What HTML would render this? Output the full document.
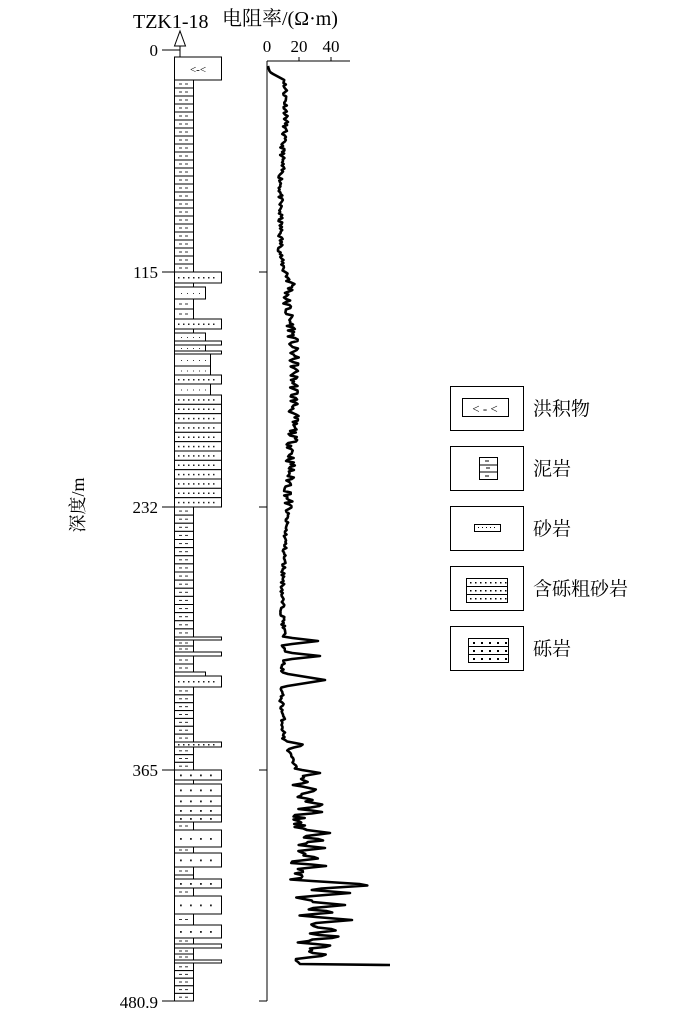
<!DOCTYPE html>
<html><head><meta charset="utf-8"><style>
html,body{margin:0;padding:0;background:#fff;}
svg{display:block;}
text{font-family:"Liberation Serif","Noto Serif CJK SC",serif;fill:#000;}
</style></head><body>
<svg id="s" width="700" height="1014" viewBox="0 0 700 1014" xmlns="http://www.w3.org/2000/svg">
<text x="133" y="28" font-size="20">TZK1-18</text>
<text x="222" y="25" font-size="20" font-family="Liberation Serif,Noto Sans CJK SC,sans-serif">电阻率/(Ω·m)</text>
<line x1="180" y1="57" x2="180" y2="42" stroke="#000" stroke-width="1"/>
<polygon points="174.5,46 185.5,46 180,31" fill="#fff" stroke="#000" stroke-width="1"/>
<g font-size="17" text-anchor="end">
<text x="158" y="56">0</text>
<text x="158" y="278">115</text>
<text x="158" y="513">232</text>
<text x="158" y="776">365</text>
<text x="158" y="1008">480.9</text>
</g>
<g stroke="#000" stroke-width="1">
<line x1="162" y1="50" x2="180" y2="50"/>
<line x1="162" y1="272" x2="174" y2="272"/>
<line x1="162" y1="507" x2="174" y2="507"/>
<line x1="162" y1="770" x2="174" y2="770"/>
<line x1="162" y1="1001" x2="194" y2="1001"/>
</g>
<text transform="translate(84,505) rotate(-90)" font-size="18" text-anchor="middle" font-family="Liberation Serif,Noto Sans CJK SC,sans-serif">深度/m</text>
<g stroke="#000" stroke-width="1" fill="none">
<line x1="267" y1="61" x2="267" y2="1001"/>
<line x1="267" y1="61" x2="350" y2="61"/>
<line x1="299" y1="57" x2="299" y2="61"/>
<line x1="331" y1="57" x2="331" y2="61"/>
<line x1="259" y1="272" x2="267" y2="272"/>
<line x1="259" y1="507" x2="267" y2="507"/>
<line x1="259" y1="770" x2="267" y2="770"/>
<line x1="259" y1="1001" x2="267" y2="1001"/>
</g>
<g font-size="17" text-anchor="middle">
<text x="267" y="52">0</text><text x="299" y="52">20</text><text x="331" y="52">40</text>
</g>
<g id="col"></g>
<path id="curve" fill="none" stroke="#000" stroke-width="2.6" stroke-linejoin="round"/>
<g stroke="#000" stroke-width="1" fill="#fff">
<rect x="450.5" y="386.5" width="73" height="44"/>
<rect x="450.5" y="446.5" width="73" height="44"/>
<rect x="450.5" y="506.5" width="73" height="44"/>
<rect x="450.5" y="566.5" width="73" height="44"/>
<rect x="450.5" y="626.5" width="73" height="44"/>
<rect x="462.5" y="398.5" width="46" height="18"/>
<rect x="479.5" y="457.5" width="18" height="22"/>
<line x1="479.5" y1="465" x2="497.5" y2="465"/><line x1="479.5" y1="472" x2="497.5" y2="472"/>
<rect x="474.5" y="524.5" width="26" height="7"/>
<rect x="466.5" y="578.5" width="41" height="24"/>
<line x1="466.5" y1="586.5" x2="507.5" y2="586.5"/><line x1="466.5" y1="594.5" x2="507.5" y2="594.5"/>
<rect x="468.5" y="638.5" width="40" height="24"/>
<line x1="468.5" y1="646.5" x2="508.5" y2="646.5"/><line x1="468.5" y1="654.5" x2="508.5" y2="654.5"/>
</g>
<g font-size="13" text-anchor="middle"><text x="485" y="413">&lt; - &lt;</text></g>
<g font-size="11" text-anchor="middle"><text x="198" y="73">&lt;-&lt;</text></g>
<g id="legdots"></g>
<g font-size="19" font-family="Liberation Serif,Noto Sans CJK SC,sans-serif">
<text x="533" y="415">洪积物</text>
<text x="533" y="475">泥岩</text>
<text x="533" y="535">砂岩</text>
<text x="533" y="595">含砾粗砂岩</text>
<text x="533" y="655">砾岩</text>
</g>
</svg>
<script>
var NS="http://www.w3.org/2000/svg";
function el(p,t,a){var e=document.createElementNS(NS,t);for(var k in a)e.setAttribute(k,a[k]);p.appendChild(e);return e;}
var col=document.getElementById('col');
var W={d:221,m:193,s:205,s2:210,c:221,g:221};
var L=[[57,80,'d']];
function mud(a,b){var n=Math.max(1,Math.round((b-a)/8));for(var i=0;i<n;i++)L.push([a+(b-a)*i/n,a+(b-a)*(i+1)/n,'m']);}
function add(a,b,t){L.push([a,b,t]);}
mud(80,272);
add(272,283,'c');add(283,287,'m');add(287,299,'s');add(299,309,'m');add(309,319,'m');add(319,329,'c');add(329,333,'m');add(333,341,'s');add(341,345,'c');add(345,351,'s');add(351,354,'c');add(354,366,'s2');add(366,375,'s2');add(375,384,'c');add(384,395,'s2');
for(var i=0;i<12;i++)add(395+i*(112/12),395+(i+1)*(112/12),'c');
mud(507,637);
add(637,640,'c');mud(640,652);add(652,656,'c');mud(656,672);add(672,676,'s');add(676,687,'c');mud(687,742);add(742,747,'c');mud(747,770);
add(770,780,'g');add(780,784,'m');add(784,796,'g');add(796,806,'g');add(806,815,'g');add(815,822,'g');mud(822,830);add(830,847,'g');mud(847,853);add(853,867,'g');mud(867,875);add(875,879,'m');add(879,888,'g');mud(888,896);add(896,914,'g');mud(914,925);add(925,938,'g');mud(938,944);add(944,948,'c');mud(948,960);add(960,963,'c');mud(963,1001);
L.forEach(function(l){var w=W[l[2]];el(col,'rect',{x:174.5,y:l[0],width:w-174,height:l[1]-l[0],fill:'#fff',stroke:'#000','stroke-width':1});
var cy=(l[0]+l[1])/2,h=l[1]-l[0];
if(l[2]=='m'&&h>5){el(col,'line',{x1:179,y1:cy,x2:182,y2:cy,stroke:'#333','stroke-width':1});el(col,'line',{x1:185,y1:cy,x2:188,y2:cy,stroke:'#333','stroke-width':1});}
if((l[2]=='s'||l[2]=='s2')&&h>5){for(var x=181;x<W[l[2]]-4;x+=6)el(col,'rect',{x:x,y:cy,width:1,height:1,fill:'#333'});}
if(l[2]=='c'&&h>4){for(var x=178;x<218;x+=5)el(col,'rect',{x:x,y:cy-0.5,width:1.5,height:1.5,fill:'#222'});}
if(l[2]=='g'){for(var x=180;x<218;x+=10)el(col,'rect',{x:x,y:cy-0.5,width:1.8,height:1.8,fill:'#222'});}
});
var lg=document.getElementById('legdots');
[582,590,598].forEach(function(y){for(var x=470;x<506;x+=5)el(lg,'rect',{x:x,y:y,width:1.5,height:1.5,fill:'#000'});});
[642,650,658].forEach(function(y){for(var x=473;x<506;x+=8)el(lg,'rect',{x:x,y:y,width:2,height:2,fill:'#000'});});
el(lg,'line',{x1:485,y1:461,x2:489,y2:461,stroke:'#000'});el(lg,'line',{x1:486,y1:468,x2:490,y2:468,stroke:'#000'});el(lg,'line',{x1:485,y1:476,x2:489,y2:476,stroke:'#000'});
for(var x=478;x<498;x+=4)el(lg,'rect',{x:x,y:527,width:1,height:1,fill:'#000'});
var seed=11;function r(){seed=(seed*16807)%2147483647;return seed/2147483647;}
var base=[[66,268],[72,270],[80,285],[120,286],[140,283],[200,280],[260,281],[270,285],[285,292],[300,286],[330,292],[360,294],[400,294],[450,292],[500,288],[540,285],[600,282],[635,284],[690,281],[740,284],[770,296],[800,303],[840,298],[880,296],[900,302],[940,306],[965,303]];
function bx(y){for(var i=0;i<base.length-1;i++){if(y>=base[i][0]&&y<=base[i+1][0]){var t=(y-base[i][0])/(base[i+1][0]-base[i][0]);return base[i][1]+t*(base[i+1][1]-base[i][1]);}}return 290;}
function amp(y){if(y<80)return 0;if(y<270)return 6;if(y<510)return 12;if(y<770)return 5;return 24;}
var spikes=[[641,318,4],[656,320,4],[680,325,7],[745,305,4],[773,320,4],[790,318,4],[805,325,4],[812,322,3],[833,330,4],[840,328,3],[848,325,3],[858,322,3],[866,326,3],[885,375,5],[893,350,4],[905,345,4],[912,338,3],[920,352,4],[930,340,4],[937,345,3],[946,335,3],[955,330,3]];
var d='M268,66';
var prev=268;
for(var y=68;y<=961;y+=1.5){var b=bx(y);var x=b+(r()-0.5)*amp(y);
x=prev*0.2+x*0.8;prev=x;
var xx=x;spikes.forEach(function(s){var t=1-Math.abs(y-s[0])/s[2];if(t>0){var v=b+(s[1]-b)*t;if(v>xx)xx=v;}});
d+=' L'+xx.toFixed(1)+','+y.toFixed(1);}
d+=' L298,962 L300,964 L390,965';
document.getElementById('curve').setAttribute('d',d);
</script>
</body></html>
